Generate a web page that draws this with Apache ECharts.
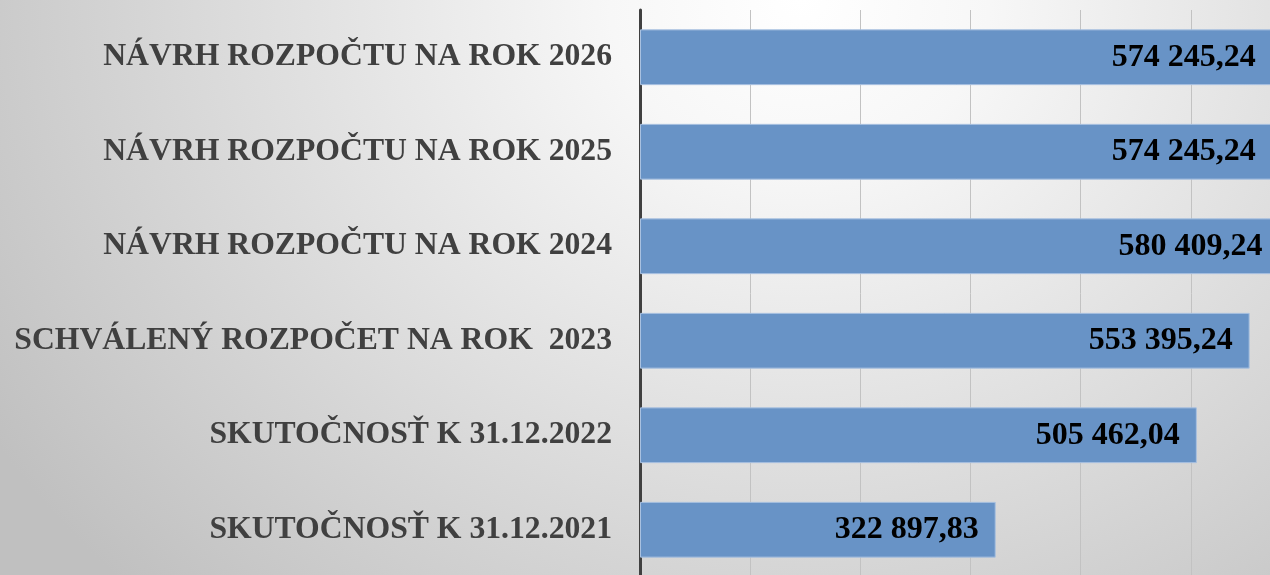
<!DOCTYPE html>
<html>
<head>
<meta charset="utf-8">
<script src="https://cdn.jsdelivr.net/npm/echarts@6/dist/echarts.min.js"></script>
<style>
html,body{margin:0;padding:0;width:1270px;height:575px;overflow:hidden;}
body{background: radial-gradient(ellipse 951px 830px at 800px 0px, #ffffff 0%, #f7f7f7 20%, #c0c0c0 100%);}
#c{width:1320px;height:580px;}
</style>
</head>
<body>
<div id="c"></div>
<script>
const categories = [
  "NÁVRH ROZPOČTU NA ROK 2026",
  "NÁVRH ROZPOČTU NA ROK 2025",
  "NÁVRH ROZPOČTU NA ROK 2024",
  "SCHVÁLENÝ ROZPOČET NA ROK  2023",
  "SKUTOČNOSŤ K 31.12.2022",
  "SKUTOČNOSŤ K 31.12.2021"
];
const values = [574245.24, 574245.24, 580409.24, 553395.24, 505462.04, 322897.83];

function fmt(v){
  const parts = v.toFixed(2).split('.');
  const intPart = parts[0].replace(/\B(?=(\d{3})+(?!\d))/g, ' ');
  return intPart + ',' + parts[1];
}

const chart = echarts.init(document.getElementById('c'), null, {renderer:'canvas'});
chart.setOption({
  backgroundColor: 'transparent',
  animation: false,
  grid: {left: 640, width: 661, top: 10, height: 567, containLabel: false},
  xAxis: {
    type: 'value', min: 0, max: 600000, interval: 100000,
    axisLabel: {show: false}, axisTick: {show: false}, axisLine: {show: false},
    splitLine: {show: true, lineStyle: {color: '#c2c2c2', width: 1}}
  },
  yAxis: {
    type: 'category', data: categories, inverse: true,
    axisTick: {show: false},
    axisLine: {show: true, lineStyle: {color: '#404040', width: 3}},
    axisLabel: {
      margin: 28, color: '#404040',
      fontFamily: 'Liberation Serif', fontWeight: 'bold', fontSize: 31.7
    }
  },
  series: [{
    type: 'bar', data: values, barCategoryGap: '41%',
    itemStyle: {color: '#6893c6', borderColor: '#a9c1e0', borderWidth: 1},
    label: {
      show: true, position: 'insideRight', distance: 17,
      color: '#000000', fontFamily: 'Liberation Serif', fontWeight: 'bold', fontSize: 32,
      formatter: p => fmt(p.value)
    }
  }]
});
</script>
</body>
</html>
